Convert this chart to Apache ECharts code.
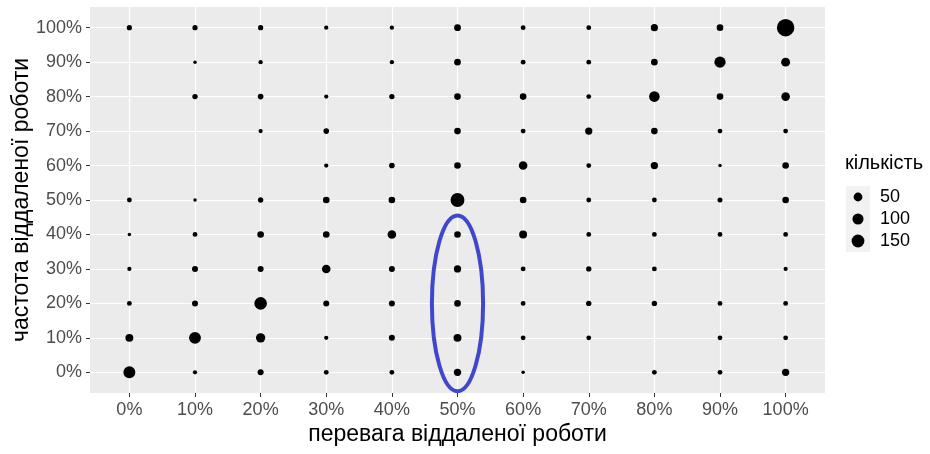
<!DOCTYPE html>
<html><head><meta charset="utf-8">
<script src="https://cdn.jsdelivr.net/npm/echarts@6/dist/echarts.min.js"></script>
<style>html,body{margin:0;padding:0;background:#fff}#c{width:930px;height:454px}</style>
</head><body><div id="c"></div><script>
// categories
const xLabels = ['0%','10%','20%','30%','40%','50%','60%','70%','80%','90%','100%'];
const yLabels = ['0%','10%','20%','30%','40%','50%','60%','70%','80%','90%','100%'];
// counts per row (frequency level), listed over preference 0%..100%; 0 = no point
const row0   = [123, 2, 12, 4, 4, 26, 1, 0, 4, 4, 26];
const row10  = [35, 123, 59, 2, 12, 35, 4, 4, 0, 4, 4];
const row20  = [4, 12, 143, 12, 12, 18, 4, 7, 7, 4, 4];
const row30  = [2, 12, 12, 46, 12, 26, 4, 7, 4, 0, 2];
const row40  = [1, 4, 18, 18, 46, 18, 35, 4, 4, 4, 4];
const row50  = [4, 1, 7, 18, 18, 187, 18, 4, 4, 5, 18];
const row60  = [0, 0, 0, 2, 9, 18, 46, 4, 26, 1, 18];
const row70  = [0, 0, 2, 9, 0, 18, 4, 26, 18, 4, 4];
const row80  = [0, 7, 9, 2, 7, 18, 18, 4, 88, 18, 46];
const row90  = [0, 1, 2, 0, 2, 18, 4, 4, 18, 105, 52];
const row100 = [6, 6, 6, 2, 2, 20, 4, 4, 24, 18, 340];
const rows = [row0, row10, row20, row30, row40, row50, row60, row70, row80, row90, row100];
// size legend
const legendTitle = 'кількість';
const legendValues = [50, 100, 150];
// annotation ellipse (data units: category index)
const ellipseCenter = [5, 2];
const ellipseRadius = [0.39, 2.55];

const V_MIN = 1, V_MAX = 340, S_MIN = 3.5, S_MAX = 17.5;
function sizeOf(v) {
  return S_MIN + (S_MAX - S_MIN) * Math.sqrt(Math.max(0, (v - V_MIN) / (V_MAX - V_MIN)));
}
const points = [];
rows.forEach((row, j) => row.forEach((v, i) => { if (v > 0) points.push([i, j, v]); }));
const idx = xLabels.map((_, i) => i);
const FONT = '"Liberation Sans", Arial, sans-serif';

const chart = echarts.init(document.getElementById('c'), null, {renderer: 'canvas'});
chart.setOption({
  animation: false,
  backgroundColor: '#fff',
  textStyle: {fontFamily: FONT},
  title: {text: legendTitle, left: 845, top: 153, padding: 0,
    textStyle: {fontSize: 20, fontWeight: 'normal', color: '#000', fontFamily: FONT}},
  grid: [
    {left: 90, top: 7, width: 735, height: 386, show: true, backgroundColor: '#ebebeb', borderWidth: 0,
     containLabel: false, outerBoundsMode: 'none'},
    {left: 846, top: 186, width: 24, height: 66, show: true, backgroundColor: '#f2f2f2', borderWidth: 0,
     containLabel: false, outerBoundsMode: 'none'}
  ],
  xAxis: [
    {type: 'value', gridIndex: 0, min: -0.6, max: 10.6,
     axisLine: {show: false, onZero: false},
     axisTick: {show: true, length: 4, customValues: idx, lineStyle: {color: '#333', width: 1}},
     axisLabel: {customValues: idx, formatter: v => xLabels[Math.round(v)], color: '#4d4d4d', fontSize: 18, margin: 8},
     splitLine: {show: true, lineStyle: {color: '#fff', width: 1.2}},
     name: 'перевага віддаленої роботи', nameLocation: 'middle', nameGap: 30, nameMoveOverlap: false,
     nameTextStyle: {fontSize: 23, color: '#000'}},
    {type: 'value', gridIndex: 1, min: -1, max: 1, show: false}
  ],
  yAxis: [
    {type: 'value', gridIndex: 0, min: -0.6, max: 10.6,
     axisLine: {show: false, onZero: false},
     axisTick: {show: true, length: 4, customValues: idx, lineStyle: {color: '#333', width: 1}},
     axisLabel: {customValues: idx, formatter: v => yLabels[Math.round(v)], color: '#4d4d4d', fontSize: 18, margin: 8},
     splitLine: {show: true, lineStyle: {color: '#fff', width: 1.2}},
     name: 'частота віддаленої роботи', nameLocation: 'middle', nameGap: 57, nameMoveOverlap: false,
     nameTextStyle: {fontSize: 23, color: '#000'}},
    {type: 'category', gridIndex: 1, data: legendValues.map(String), inverse: true, position: 'right',
     axisLine: {show: false}, axisTick: {show: false}, splitLine: {show: false},
     axisLabel: {color: '#000', fontSize: 18, margin: 10, interval: 0, hideOverlap: false}}
  ],
  series: [
    {type: 'scatter', xAxisIndex: 0, yAxisIndex: 0, data: points,
     symbolSize: d => sizeOf(d[2]), itemStyle: {color: '#000', opacity: 1}, silent: true, z: 3},
    {type: 'scatter', xAxisIndex: 1, yAxisIndex: 1, data: legendValues.map((v, i) => [0, i, v]),
     symbolSize: d => sizeOf(d[2]), itemStyle: {color: '#000', opacity: 1}, silent: true, z: 3}
  ]
});
const c = chart.convertToPixel({gridIndex: 0}, ellipseCenter);
const e = chart.convertToPixel({gridIndex: 0}, [ellipseCenter[0] + ellipseRadius[0], ellipseCenter[1] + ellipseRadius[1]]);
chart.setOption({graphic: [{type: 'ellipse', silent: true, z: 100,
  shape: {cx: c[0], cy: c[1], rx: Math.abs(e[0] - c[0]), ry: Math.abs(c[1] - e[1])},
  style: {fill: 'none', stroke: '#3F48CC', lineWidth: 4}}]});
</script></body></html>
